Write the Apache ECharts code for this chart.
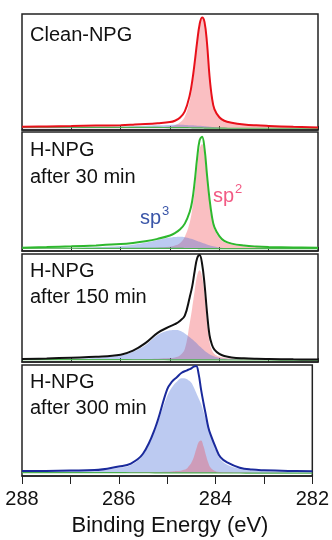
<!DOCTYPE html>
<html>
<head>
<meta charset="utf-8">
<script src="https://cdn.jsdelivr.net/npm/echarts@6/dist/echarts.min.js"></script>
<style>
  html, body { margin: 0; padding: 0; background: #fff; }
  #chart { width: 332px; height: 540px; }
</style>
</head>
<body>
<div id="chart"></div>
<script>
// binding energy grid (eV), shared by every curve
const energy = [288, 287.5, 287, 286.5, 286, 285.75, 285.5, 285.25, 285, 284.9, 284.8, 284.7, 284.6, 284.55, 284.5, 284.45,
  284.4, 284.35, 284.3, 284.25, 284.2, 284.15, 284.1, 284, 283.9, 283.75, 283.5, 283.25, 283, 282.5, 282];

// Clean-NPG
const cleanTotal = [2.8, 3.1, 3.4, 3.8, 4.2, 4.6, 5.1, 5.8, 6.8, 8, 10.5, 16, 30, 42, 58, 76, 91, 97, 93, 75, 47, 28, 18, 11, 8, 6.3, 4.8, 4, 3.5, 2.7, 2.2];
const cleanSp2 = [2.4, 2.4, 2.4, 2.4, 2.4, 2.5, 2.5, 2.7, 3.2, 4.2, 6.5, 11.5, 25, 38, 55, 74, 89, 96, 92, 74, 46, 27, 17, 10.5, 7.5, 6, 4.6, 3.8, 3.3, 2.6, 2.1];
const cleanSp3 = [2.4, 2.45, 2.5, 2.7, 3, 3.3, 3.7, 4.1, 4.4, 4.5, 4.5, 4.4, 4.2, 4.05, 3.9, 3.75, 3.6, 3.4, 3.2, 3, 2.8, 2.6, 2.4, 2.1, 1.9, 1.7, 1.6, 1.55, 1.5, 1.5, 1.5];
const cleanBg = [2.4, 2.4, 2.35, 2.3, 2.3, 2.25, 2.2, 2.2, 2.1, 2.1, 2.05, 2, 1.95, 1.9, 1.9, 1.85, 1.8, 1.75, 1.7, 1.65, 1.6, 1.6, 1.6, 1.55, 1.55, 1.5, 1.5, 1.5, 1.5, 1.5, 1.5];

// H-NPG after 30 min
const h30Total = [2.8, 3.3, 3.9, 4.7, 5.8, 6.8, 8.2, 10.2, 13, 15, 18, 23, 33, 42, 58, 78, 93, 96, 86, 64, 44, 29, 20, 12.5, 8.5, 6.2, 4.6, 3.8, 3.4, 3, 2.8];
const h30Sp2 = [2.3, 2.3, 2.3, 2.35, 2.4, 2.5, 2.7, 3, 3.6, 4.6, 6.5, 12, 24, 35, 50, 70, 86, 90, 81, 60, 41, 26, 18, 11, 7.5, 5.5, 4, 3.3, 3, 2.6, 2.3];
const h30Sp3 = [2.3, 2.4, 2.6, 3.2, 4.2, 5.3, 7, 9.3, 11.3, 11.8, 12, 11.6, 10.6, 10, 9.3, 8.5, 7.8, 7, 6.2, 5.5, 4.8, 4.2, 3.7, 3, 2.6, 2.3, 2.15, 2.1, 2.05, 2, 2];
const h30Bg = [2.3, 2.3, 2.3, 2.25, 2.25, 2.2, 2.2, 2.2, 2.15, 2.15, 2.15, 2.1, 2.1, 2.1, 2.1, 2.1, 2.05, 2.05, 2.05, 2.05, 2.05, 2, 2, 2, 2, 2, 2, 2, 2, 2, 2];

// H-NPG after 150 min
const h150Total = [2.8, 3.3, 4, 4.8, 6.8, 10.5, 17.5, 27, 33, 35, 38, 43, 60, 70, 84, 96, 99, 91, 72, 46, 25, 16, 11.5, 7.5, 5.5, 4.2, 3.4, 3, 2.8, 2.5, 2.3];
const h150Sp2 = [2.2, 2.2, 2.3, 2.4, 2.5, 2.6, 2.8, 3.1, 3.6, 4.2, 6, 12, 36, 50, 66, 80, 85, 79, 62, 38, 19, 11, 7.5, 5, 4, 3.3, 2.8, 2.5, 2.3, 2.1, 1.9];
const h150Sp3 = [2.5, 2.7, 3.1, 4, 6, 9.5, 15.5, 25, 29.3, 29.6, 29, 26.5, 23, 21, 19, 17, 14.5, 12.5, 10.5, 8.8, 7.2, 6, 5, 3.8, 3.2, 2.8, 2.4, 2.2, 2.1, 2, 1.9];
const h150Bg = [2.2, 2.2, 2.2, 2.15, 2.15, 2.1, 2.1, 2.1, 2.05, 2.05, 2, 2, 2, 2, 2, 2, 1.95, 1.95, 1.95, 1.95, 1.9, 1.9, 1.9, 1.9, 1.9, 1.85, 1.85, 1.85, 1.85, 1.8, 1.8];

// H-NPG after 300 min
const h300Total = [4.5, 4.6, 4.9, 5.3, 8.6, 11.2, 20, 43, 78, 85, 89, 93, 95, 96, 97, 98.5, 99, 92, 78, 66, 55, 44, 37, 26, 17, 12, 7.5, 5.8, 5.2, 4.6, 4.3];
const h300Sp2 = [3.1, 3.1, 3.1, 3.2, 3.3, 3.4, 3.5, 3.7, 3.9, 4.1, 4.4, 5, 6.5, 9, 12, 17, 24, 30.5, 32, 27, 19, 12, 7.5, 4.3, 3.6, 3.3, 3.1, 3, 2.9, 2.8, 2.7];
const h300Sp3 = [4, 4.2, 4.5, 4.9, 7.5, 10, 19, 42, 72, 80, 85, 88, 87.5, 86, 84, 80, 75, 70, 65, 58, 51, 44, 37, 25, 15, 10, 6.5, 5, 4.2, 3.8, 3.5];
const h300Bg = [3, 3, 3, 3, 3, 2.95, 2.95, 2.9, 2.9, 2.9, 2.9, 2.85, 2.85, 2.85, 2.85, 2.8, 2.8, 2.8, 2.8, 2.8, 2.8, 2.75, 2.75, 2.75, 2.7, 2.7, 2.7, 2.65, 2.65, 2.6, 2.6];

const panelTitles = [['Clean-NPG'], ['H-NPG', 'after 30 min'], ['H-NPG', 'after 150 min'], ['H-NPG', 'after 300 min']];
const xTicks = [282, 284, 286, 288];

const panels = [
  { total: cleanTotal, sp2: cleanSp2, sp3: cleanSp3, bg: cleanBg },
  { total: h30Total, sp2: h30Sp2, sp3: h30Sp3, bg: h30Bg },
  { total: h150Total, sp2: h150Sp2, sp3: h150Sp3, bg: h150Bg },
  { total: h300Total, sp2: h300Sp2, sp3: h300Sp3, bg: h300Bg }
];

// layout / style
const gridTops = [14, 132, 254, 365];
const gridHeights = [116, 119, 108, 111];
const titleY = [[35], [150, 177], [271, 297], [382, 408]];
const lineColors = ['#e8101a', '#2eb82e', '#111111', '#1a2a9c'];
const FONT = '"Liberation Sans", Arial, sans-serif';

const pts = (ys) => energy.map((x, k) => [x, ys[k]]);

const chart = echarts.init(document.getElementById('chart'));

const grids = [], xAxes = [], yAxes = [], series = [], graphic = [];

panels.forEach((p, i) => {
  const last = i === panels.length - 1;
  grids.push({
    left: 22, right: 14, top: gridTops[i], height: gridHeights[i],
    show: true, borderColor: '#222', borderWidth: 1.5, backgroundColor: 'transparent'
  });
  xAxes.push({
    type: 'value', gridIndex: i, min: 282, max: 288, interval: 1, inverse: true,
    axisLine: { show: true, lineStyle: { color: '#222', width: 1.5 } },
    axisTick: { show: true, inside: !last, length: last ? 8 : 4, lineStyle: { color: '#222', width: 1 } },
    splitLine: { show: false },
    axisLabel: {
      show: last, margin: 13, color: '#111', fontSize: 20, fontFamily: FONT,
      formatter: (v) => xTicks.indexOf(v) >= 0 ? String(v) : ''
    }
  });
  yAxes.push({ type: 'value', gridIndex: i, min: 0, max: 100, show: false });

  // components are filled down to the lowest point of the background
  const floor = Math.min.apply(null, p.bg);
  const lift = (arr) => arr.map((v) => Math.max(v, floor));
  const base = {
    type: 'line', xAxisIndex: i, yAxisIndex: i, symbol: 'none', smooth: 0.4, silent: true
  };
  // blue drawn over pink in the first three panels, pink over blue in the last
  const zSp2 = last ? 4 : 3, zSp3 = last ? 3 : 4;

  series.push({ ...base, data: pts(lift(p.sp2)), lineStyle: { width: 0, color: 'rgba(0,0,0,0)' },
    areaStyle: { color: 'rgba(240,75,81,0.5)', origin: floor }, z: zSp2 });
  series.push({ ...base, data: pts(lift(p.sp3)), lineStyle: { width: 0, color: 'rgba(0,0,0,0)' },
    areaStyle: { color: 'rgba(65,105,215,0.5)', origin: floor }, z: zSp3 });
  series.push({ ...base, data: pts(p.bg), lineStyle: { color: '#4cb050', width: 1.2 }, z: 5 });
  series.push({ ...base, data: pts(p.total), lineStyle: { color: lineColors[i], width: 2 }, z: 6 });

  panelTitles[i].forEach((t, j) => {
    graphic.push({
      type: 'text', x: 30, y: titleY[i][j], z: 10,
      style: { text: t, fontSize: 20, fontFamily: FONT, fill: '#111', verticalAlign: 'middle' }
    });
  });
});

// sp3 / sp2 labels in the 30 min panel
graphic.push(
  { type: 'text', x: 140, y: 218, z: 10, style: { text: 'sp', fontSize: 20, fontFamily: FONT, fill: '#3a55a8', verticalAlign: 'middle' } },
  { type: 'text', x: 162, y: 211, z: 10, style: { text: '3', fontSize: 13, fontFamily: FONT, fill: '#3a55a8', verticalAlign: 'middle' } },
  { type: 'text', x: 213, y: 196, z: 10, style: { text: 'sp', fontSize: 20, fontFamily: FONT, fill: '#f25a84', verticalAlign: 'middle' } },
  { type: 'text', x: 235, y: 189, z: 10, style: { text: '2', fontSize: 13, fontFamily: FONT, fill: '#f25a84', verticalAlign: 'middle' } },
  { type: 'text', x: 170, y: 526, z: 10, style: { text: 'Binding Energy (eV)', fontSize: 22, fontFamily: FONT, fill: '#111', align: 'center', verticalAlign: 'middle' } }
);

chart.setOption({
  animation: false,
  backgroundColor: '#fff',
  grid: grids,
  xAxis: xAxes,
  yAxis: yAxes,
  series: series,
  graphic: graphic
});
</script>
</body>
</html>
